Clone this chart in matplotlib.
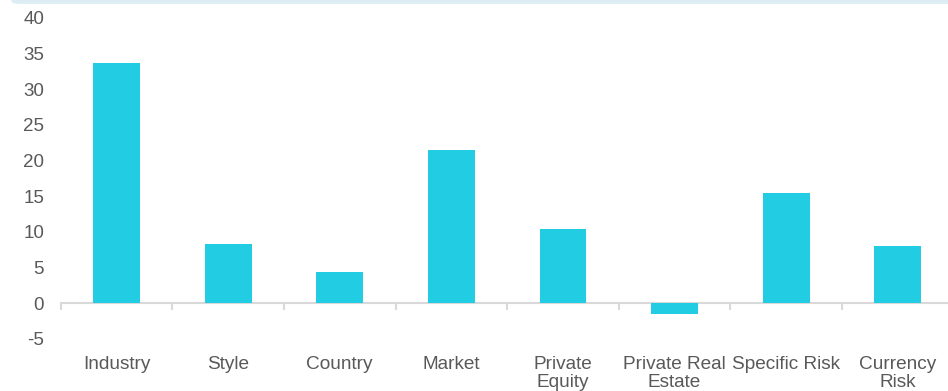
import matplotlib.pyplot as plt
from matplotlib.patches import FancyBboxPatch
import numpy as np

plt.rcParams['font.family'] = ['Liberation Sans', 'DejaVu Sans']

# Risk contribution by factor group
categories = ['Industry', 'Style', 'Country', 'Market', 'Private\nEquity',
              'Private Real\nEstate', 'Specific Risk', 'Currency\nRisk']
values = [33.7, 8.3, 4.4, 21.5, 10.4, -1.5, 15.5, 8.05]
yticks = [-5, 0, 5, 10, 15, 20, 25, 30, 35, 40]

bar_color = '#22CDE4'
text_color = '#595959'
line_color = '#D9D9D9'

fig = plt.figure(figsize=(9.48, 3.91), dpi=100)
ax = fig.add_axes([0.064, 0.133, 0.942, 0.821])

x = np.arange(len(categories))
ax.bar(x, values, width=0.42, color=bar_color, zorder=3)

ax.set_xlim(-0.5, len(categories) - 0.5)
ax.set_ylim(-5, 40)
ax.set_yticks(yticks)
ax.set_yticklabels([str(v) for v in yticks])

# zero line with small tick marks between categories
for side in ['top', 'right', 'left']:
    ax.spines[side].set_visible(False)
ax.spines['bottom'].set_position(('data', 0))
ax.spines['bottom'].set_color(line_color)
ax.spines['bottom'].set_linewidth(1.5)
ax.set_xticks(x)
ax.set_xticklabels(categories, linespacing=1.05)
ax.set_xticks(np.arange(len(categories) + 1) - 0.5, minor=True)
ax.tick_params(axis='x', which='major', length=0, pad=38, labelsize=13.7,
               labelcolor=text_color)
ax.tick_params(axis='x', which='minor', length=5, width=1.5, color=line_color)
ax.tick_params(axis='y', length=0, pad=12, labelsize=13.5, labelcolor=text_color)

# light header strip along the top edge
fig.patches.append(FancyBboxPatch((0.012, 0.99), 1.0, 0.03,
                                  boxstyle='round,pad=0,rounding_size=0.008',
                                  transform=fig.transFigure, facecolor='#DCEEF3',
                                  edgecolor='none'))

fig.savefig('out.png', dpi=100)
